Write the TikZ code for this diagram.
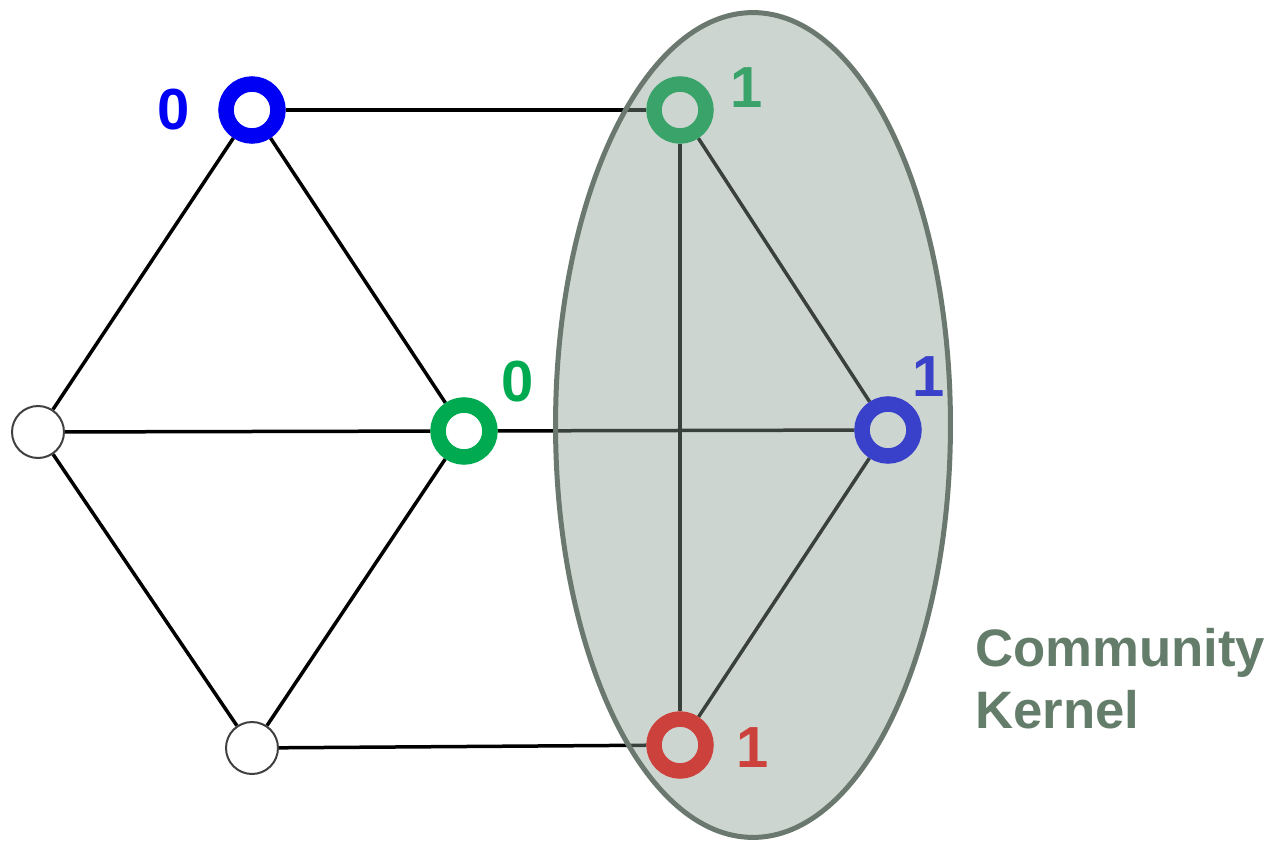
\documentclass[tikz,border=0pt]{standalone}
\usepackage{fontspec}
\setmainfont{Liberation Sans}
\usepackage{xcolor}
\usepackage{tikz}
\usetikzlibrary{shapes.geometric,backgrounds}
\definecolor{cBlue}{RGB}{0,0,245}
\definecolor{cGreen}{RGB}{0,170,80}
\definecolor{cRed}{RGB}{255,0,0}
\definecolor{cKernFill}{RGB}{136,155,143}
\definecolor{cKernLine}{RGB}{107,120,112}
\definecolor{cKernText}{RGB}{100,124,106}
\tikzset{
  ring/.style={circle, draw=#1, fill=white, line width=0.31cm,
               minimum size=1.04cm, inner sep=0pt},
  plain/.style={circle, draw=black!75, fill=white, line width=0.04cm,
                minimum size=1.04cm, inner sep=0pt},
  tag/.style={text=#1, font=\fontsize{33}{36}\selectfont\bfseries, inner sep=0pt},
  edge/.style={line width=0.07cm, black},
  kernel/.style={ellipse, draw=cKernLine, line width=0.1cm, fill=cKernFill,
                 fill opacity=0.42, draw opacity=1,
                 minimum width=7.9cm, minimum height=16.5cm, inner sep=0pt},
}

\begin{document}
\begin{tikzpicture}[x=0.02cm, y=-0.02cm]
  \useasboundingbox (0,0) rectangle (1276,845);
  % vertices
  \node[ring=cBlue]  (b0) at (252,110) {};
  \node[ring=cGreen] (g1) at (680,110) {};
  \node[plain]       (w1) at (38,432) {};
  \node[ring=cGreen] (g0) at (464,431) {};
  \node[ring=cBlue]  (b1) at (888,430) {};
  \node[plain]       (w2) at (252,748) {};
  \node[ring=cRed]   (r1) at (680,745) {};

  % labels
  \node[tag=cBlue]  at (174,110) {0};
  \node[tag=cGreen] at (747,88) {1};
  \node[tag=cGreen] at (518,382) {0};
  \node[tag=cBlue]  at (929,377) {1};
  \node[tag=cRed]   at (753,748) {1};

  % edges
  \begin{scope}[on background layer]
    \draw[edge] (b0) -- (g1);
    \draw[edge] (b0) -- (w1);
    \draw[edge] (b0) -- (g0);
    \draw[edge] (w1) -- (g0);
    \draw[edge] (w1) -- (w2);
    \draw[edge] (w2) -- (g0);
    \draw[edge] (w2) -- (r1);
    \draw[edge] (g0) -- (b1);
    \draw[edge] (g1) -- (r1);
    \draw[edge] (g1) -- (b1);
    \draw[edge] (b1) -- (r1);
  \end{scope}

  % community kernel
  \node[kernel] (kern) at (753,425) {};
  \node[text=cKernText, font=\fontsize{30}{35}\selectfont\bfseries,
        align=left, anchor=north west, inner sep=0pt] (ktext) at (975,628)
        {Community\\Kernel};
\end{tikzpicture}
\end{document}
